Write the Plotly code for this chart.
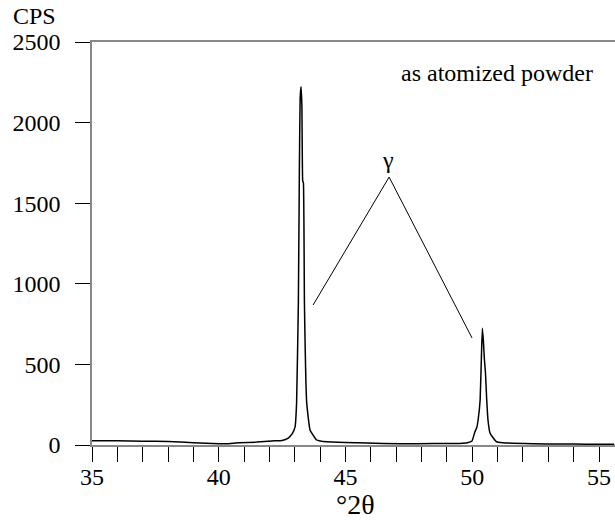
import plotly.graph_objects as go

# 2-theta (degrees) and intensity (CPS)
two_theta = [35.0, 36.0, 37.0, 38.0, 39.0, 40.0, 40.3, 40.8, 41.5, 42.1, 42.5, 42.74, 42.9, 43.01,
             43.07, 43.14, 43.18, 43.21, 43.245, 43.28, 43.31, 43.34, 43.38, 43.47, 43.60, 43.86,
             44.0, 44.27, 45.0, 45.85, 47.15, 48.5, 49.5, 49.8, 49.99, 50.1, 50.18, 50.23, 50.31,
             50.37, 50.40, 50.44, 50.48, 50.52, 50.57, 50.62, 50.70, 50.82, 50.96, 51.2, 52.4,
             53.5, 54.5, 55.6]
cps = [27, 26, 24, 22, 14, 8, 8, 14, 18, 25, 28, 43, 70, 112,
       260, 881, 1706, 2150, 2223, 2100, 1640, 1625, 881, 260, 93, 31,
       25, 20, 16, 12, 8, 9, 10, 14, 25, 80, 110, 155, 279,
       600, 724, 640, 527, 450, 279, 155, 74, 45, 20, 14, 8,
       6, 5, 4]

x_ticks = list(range(35, 56))
x_labels = [str(v) if v % 5 == 0 else "" for v in x_ticks]
y_ticks = [0, 500, 1000, 1500, 2000, 2500]

# gamma marker lines: (x, y) in data units
gamma_x = [43.72, 46.72, 49.99]
gamma_y = [868, 1662, 664]

font_family = "Liberation Serif"

L, R, T, B = 92, 0, 42, 75
PW, PH = 615 - L - R, 520 - T - B

fig = go.Figure()
fig.add_trace(go.Scatter(x=two_theta, y=cps, mode="lines",
                         line=dict(color="black", width=1.5, shape="spline", smoothing=0.3),
                         showlegend=False, hoverinfo="skip"))
fig.add_trace(go.Scatter(x=gamma_x, y=gamma_y, mode="lines",
                         line=dict(color="black", width=1),
                         showlegend=False, hoverinfo="skip"))

fig.add_annotation(x=46.68, y=1768, text="γ", showarrow=False, yanchor="middle",
                   font=dict(size=24, color="black", family=font_family))
fig.add_annotation(x=50.98, y=2305, text="as atomized powder", showarrow=False,
                   yanchor="middle",
                   font=dict(size=24, color="black", family=font_family))
fig.add_annotation(xref="paper", yref="paper", x=(34 - L) / PW, y=1 + (T - 16) / PH,
                   xanchor="center", yanchor="middle", text="CPS", showarrow=False,
                   font=dict(size=24, color="black", family=font_family))
fig.add_annotation(xref="paper", yref="paper", x=(355 - L) / PW, y=-(504 - (T + PH)) / PH,
                   xanchor="center", yanchor="middle", text="°2θ", showarrow=False,
                   font=dict(size=28, color="black", family=font_family))

fig.update_layout(
    width=615, height=520,
    margin=dict(l=L, r=R, t=T, b=B, autoexpand=False),
    paper_bgcolor="white", plot_bgcolor="white",
    font=dict(family=font_family, size=24, color="black"),
)

fig.update_xaxes(range=[35, 55.63], tickvals=x_ticks, ticktext=x_labels,
                 ticks="outside", ticklen=15, tickcolor="black", tickwidth=1,
                 showline=True, linecolor="#888888", linewidth=1.5, mirror=True,
                 showgrid=False, zeroline=False, automargin=False,
                 ticklabelstandoff=-6)
fig.update_yaxes(range=[0, 2500], tickvals=y_ticks,
                 ticks="outside", ticklen=15, tickcolor="black", tickwidth=1,
                 showline=True, linecolor="#888888", linewidth=1.5,
                 showgrid=False, zeroline=False, ticklabelstandoff=10, automargin=False)

fig.write_html("out.html", config={"displayModeBar": False},
               post_script="document.body.style.margin='0';document.body.style.overflow='hidden';")
